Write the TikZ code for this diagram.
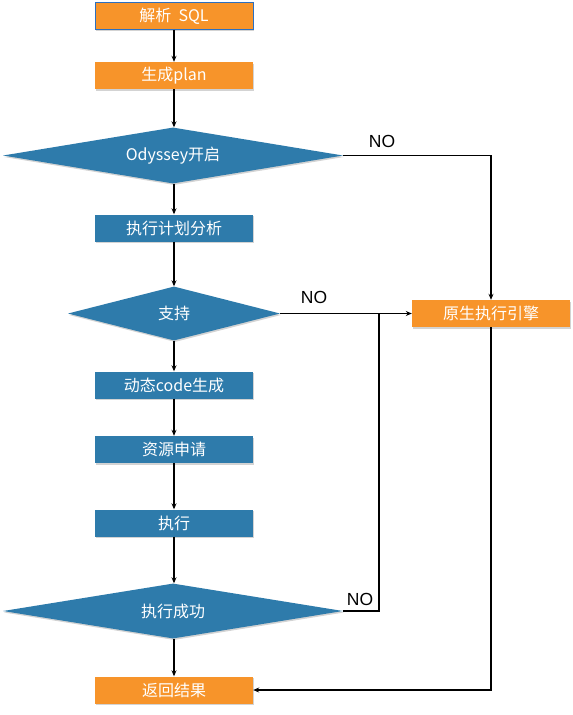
\documentclass[tikz,border=0pt]{standalone}
\usepackage{fontspec}
\setmainfont{Liberation Sans}
\newfontfamily\cjk{Noto Sans CJK SC}
\usetikzlibrary{shapes.geometric,arrows.meta,shadows}
\definecolor{orgfill}{HTML}{F7942A}
\definecolor{bluefill}{HTML}{2E7BAB}
\definecolor{bordblue}{HTML}{2B6FC0}
\tikzset{
  obox/.style={rectangle, fill=orgfill, minimum width=158pt, minimum height=27pt, inner sep=0pt, text=white, font=\cjk\fontsize{16}{18}\selectfont, drop shadow={shadow xshift=1pt, shadow yshift=-1.5pt, opacity=0.35}},
  bbox/.style={obox, fill=bluefill},
  dia/.style={diamond, aspect=6, fill=bluefill, inner sep=0pt, text=white, font=\cjk\fontsize{16}{18}\selectfont, drop shadow={shadow xshift=1pt, shadow yshift=-1.5pt, opacity=0.35}},
  conn/.style={draw=black, line width=1.3pt, -{Stealth[length=6pt,width=5pt]}},
  plain/.style={draw=black, line width=1.3pt},
  nolab/.style={font=\fontsize{17.5}{19}\selectfont, text=black}
}
\begin{document}
\begin{tikzpicture}[x=1pt,y=-1pt]
\useasboundingbox (0,0) rectangle (573,715);
\node[obox, draw=bordblue, line width=0.8pt] (sql) at (174,16) {解析\ \ SQL};
\node[obox] (plan) at (174,75.5) {生成plan};
\node[dia, minimum width=340pt, minimum height=56pt] (ody) at (173,155.5) {Odyssey开启};
\node[bbox] (ana) at (174,228) {执行计划分析};
\node[dia, minimum width=212pt, minimum height=54pt] (sup) at (174,313.5) {支持};
\node[obox] (native) at (491,313.5) {原生执行引擎};
\node[bbox] (code) at (174,385) {动态code生成};
\node[bbox] (res) at (174,449.5) {资源申请};
\node[bbox] (exe) at (174,523) {执行};
\node[dia, minimum width=340pt, minimum height=55pt] (ok) at (173,611) {执行成功};
\node[obox] (ret) at (174,690) {返回结果};
\coordinate (jx) at (379,313.5);

\draw[conn] (sql) -- (plan);
\draw[conn] (plan) -- (ody.north -| plan);
\draw[conn] (ody.south -| ana) -- (ana);
\draw[conn] (ana) -- (sup.north -| ana);
\draw[conn] (sup.south -| code) -- (code);
\draw[conn] (code) -- (res);
\draw[conn] (res) -- (exe);
\draw[conn] (exe) -- (ok.north -| exe);
\draw[conn] (ok.south -| ret) -- (ret);

\draw[conn] (ody.east) -- (ody.east -| native) -- (native.north);
\node[nolab] (no1) at (382,141) {NO};
\draw[conn] (sup.east) -- (native.west);
\node[nolab] (no2) at (314,297) {NO};
\draw[plain] (ok.east) -- (ok.east -| jx) -- (jx);
\node[nolab] (no3) at (360,599) {NO};
\draw[conn] (native.south) -- (native.south |- ret) -- (ret.east);
\end{tikzpicture}
\end{document}
